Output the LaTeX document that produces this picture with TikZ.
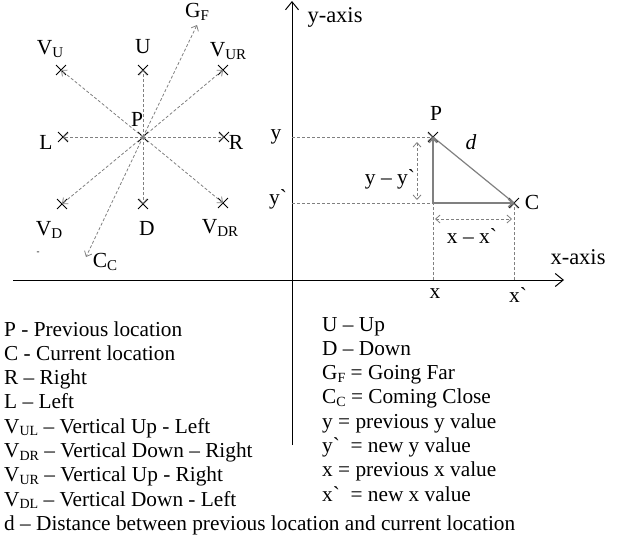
\documentclass[tikz,border=0pt]{standalone}
\usepackage{fontspec}
\setmainfont{Liberation Serif}[Ligatures=TeXOff]
\usetikzlibrary{arrows.meta,shapes.misc}
\newcommand{\mysb}[1]{\raisebox{-2.5pt}{\fontsize{15}{15}\selectfont #1}}
\newcommand{\mysl}[1]{\raisebox{-2.5pt}{\fontsize{14}{14}\selectfont #1}}
\tikzset{
  xmark/.style={cross out, draw=black, line width=0.9pt, minimum size=9pt, inner sep=0pt},
  lbl/.style={font=\fontsize{21.5}{23}\selectfont, inner sep=0pt},
  albl/.style={font=\fontsize{22.5}{24}\selectfont, inner sep=0pt},
  leg/.style={font=\fontsize{21.3}{23}\selectfont, inner sep=0pt, anchor=base west},
  garrow/.style={draw=gray, line width=0.8pt, dash pattern=on 3pt off 2pt, -{Straight Barb[length=4.5pt,width=8pt]}},
  gdash/.style={draw=gray, line width=0.8pt, dash pattern=on 3pt off 2pt},
  gdouble/.style={draw=gray, line width=0.8pt, dash pattern=on 3pt off 2pt, {Straight Barb[length=4.5pt,width=8pt]}-{Straight Barb[length=4.5pt,width=8pt]}},
  gsolid/.style={draw=gray, line width=1.6pt, -{Straight Barb[length=4.5pt,width=8pt]}},
  axis/.style={draw=black, line width=1pt, -{Straight Barb[length=8pt,width=13pt]}}
}
\begin{document}
\begin{tikzpicture}[x=1pt,y=-1pt]
\useasboundingbox (0,0) rectangle (620,544);
% left compass
\node[xmark] (P) at (143,137) {};
\node[xmark] (VU) at (61,70) {};
\node[xmark] (U) at (143,70) {};
\node[xmark] (VUR) at (223,70) {};
\node[xmark] (L) at (63,137) {};
\node[xmark] (R) at (224,137) {};
\node[xmark] (VD) at (62,204) {};
\node[xmark] (D) at (143,204) {};
\node[xmark] (VDR) at (223,203) {};
\coordinate (GF) at (197,25);
\coordinate (CC) at (86,257);
\foreach \t in {VU,U,VUR,L,R,VD,D,VDR,GF,CC}
  \draw[garrow] (P.center) -- (\t.center);
\node[lbl] (tGF) at (197,12) {G\mysb{F}};
\node[lbl] (tVU) at (50,49) {V\mysb{U}};
\node[lbl] (tU) at (143,47) {U};
\node[lbl] (tVUR) at (228,51) {V\mysb{UR}};
\node[lbl] (tP) at (137,119) {P};
\node[lbl] (tL) at (46,142) {L};
\node[lbl] (tR) at (236,142) {R};
\node[lbl] (tVD) at (49,230) {V\mysb{D}};
\node[lbl] (tD) at (147,228) {D};
\node[lbl] (tVDR) at (220,228) {V\mysb{DR}};
\node[lbl] (tCC) at (105,262) {C\mysb{C}};
\node[lbl, font=\fontsize{9}{9}\selectfont] (tdash) at (38,253) {-};
% axes
\coordinate (ya0) at (292,445);
\coordinate (ya1) at (292,1);
\coordinate (xa0) at (13,280);
\coordinate (xa1) at (564,280);
\draw[axis] (ya0) -- (ya1);
\draw[axis] (xa0) -- (xa1);
\node[albl] (tya) at (335,17) {y-axis};
\node[albl] (txa) at (578,257) {x-axis};
% right triangle
\node[xmark] (P2) at (433,137) {};
\node[xmark] (C) at (514,203) {};
\coordinate (Q) at (433,203);
\coordinate (yP) at (292,137);
\coordinate (yC) at (292,203);
\coordinate (xP) at (433,280);
\coordinate (xC) at (514,280);
\draw[garrow] (yP) -- (P2.center);
\draw[gdash] (yC) -- (Q);
\draw[gdash] (xP) -- (Q);
\draw[garrow] (xC) -- (C.center);
\draw[gsolid] (Q) -- (P2.center);
\draw[gsolid] (Q) -- (C.center);
\draw[draw=gray, line width=1.2pt] (P2.center) -- (C.center);
\coordinate (dy0) at (417,142);
\coordinate (dy1) at (417,200);
\coordinate (dx0) at (435,219);
\coordinate (dx1) at (512,219);
\draw[gdouble] (dy0) -- (dy1);
\draw[gdouble] (dx0) -- (dx1);
\node[lbl] (tP2) at (436,113) {P};
\node[lbl] (td) at (471,142) {\itshape d};
\node[lbl] (tC) at (532,202) {C};
\node[lbl] (tyy) at (390,179) {y – y`};
\node[lbl] (txx) at (472,236) {x – x`};
\node[lbl] (ty) at (276,137) {y};
\node[lbl] (ty2) at (278,199) {y`};
\node[lbl] (tx) at (435,294) {x};
\node[lbl] (tx2) at (518,295) {x`};
% legend left
\node[leg] (l1) at (4,336) {P - Previous location};
\node[leg] (l2) at (4,360.3) {C - Current location};
\node[leg] (l3) at (4,384.6) {R – Right};
\node[leg] (l4) at (4,408.9) {L – Left};
\node[leg] (l5) at (4,433.2) {V\mysl{UL} – Vertical Up - Left};
\node[leg] (l6) at (4,457.5) {V\mysl{DR} – Vertical Down – Right};
\node[leg] (l7) at (4,481.8) {V\mysl{UR} – Vertical Up - Right};
\node[leg] (l8) at (4,506.1) {V\mysl{DL} – Vertical Down - Left};
\node[leg] (l9) at (4,530.4) {d – Distance between previous location and current location};
% legend right
\node[leg] (r1) at (322,331) {U – Up};
\node[leg] (r2) at (322,355.3) {D – Down};
\node[leg] (r3) at (322,379.6) {G\mysl{F} = Going Far};
\node[leg] (r4) at (322,403.9) {C\mysl{C} = Coming Close};
\node[leg] (r5) at (322,428.2) {y = previous y value};
\node[leg] (r6) at (322,452.5) {y`\ \ = new y value};
\node[leg] (r7) at (322,476.8) {x = previous x value};
\node[leg] (r8) at (322,501.1) {x`\ \ = new x value};
\end{tikzpicture}
\end{document}
